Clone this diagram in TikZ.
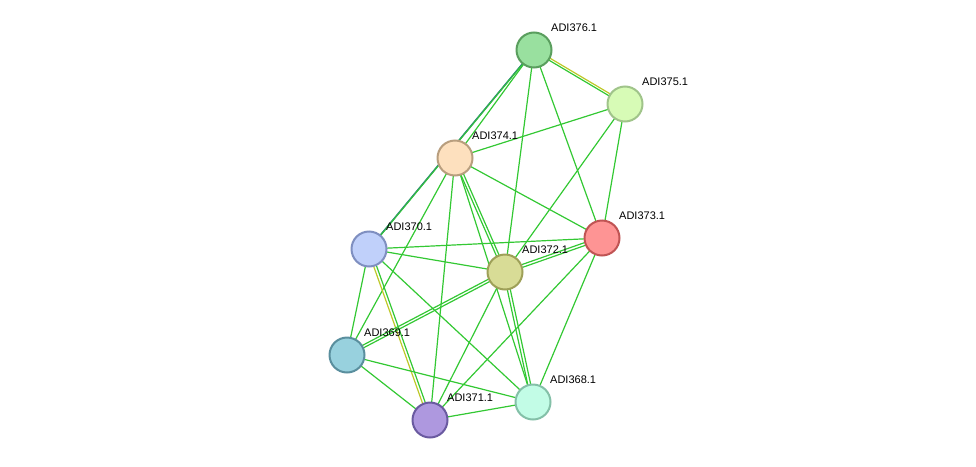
\documentclass[tikz,border=0pt]{standalone}
\usepackage{fontspec}
\setmainfont{Liberation Sans}
\begin{document}
\begin{tikzpicture}[x=1pt,y=-1pt,
  n/.style={circle,draw,line width=2pt,minimum size=35pt,inner sep=0pt},
  lab/.style={anchor=west,font=\fontsize{11}{12}\selectfont,inner sep=0pt},
  e/.style={draw={rgb,255:red,51;green,200;blue,51},line width=1.2pt},
  ye/.style={draw={rgb,255:red,190;green,200;blue,40},line width=1.2pt},
  bl/.style={draw={rgb,255:red,50;green,50;blue,230},line width=1.2pt}]
\useasboundingbox (0,0) rectangle (976,466);
\definecolor{f376}{HTML}{99E09F}\definecolor{s376}{HTML}{5A9E5E}
\definecolor{f375}{HTML}{D7FBB6}\definecolor{s375}{HTML}{A0C48A}
\definecolor{f374}{HTML}{FDE0BE}\definecolor{s374}{HTML}{B89E7E}
\definecolor{f373}{HTML}{FE9494}\definecolor{s373}{HTML}{C05454}
\definecolor{f370}{HTML}{C0D0FA}\definecolor{s370}{HTML}{7F8FC0}
\definecolor{f372}{HTML}{D8DC96}\definecolor{s372}{HTML}{9EA058}
\definecolor{f369}{HTML}{98D1DE}\definecolor{s369}{HTML}{5A8F9E}
\definecolor{f368}{HTML}{C2FCE6}\definecolor{s368}{HTML}{84C0A8}
\definecolor{f371}{HTML}{AE98DF}\definecolor{s371}{HTML}{6A5AA0}
\coordinate (p376) at (534,50);
\coordinate (p375) at (625,104);
\coordinate (p374) at (455,158);
\coordinate (p373) at (602,238);
\coordinate (p370) at (369,249);
\coordinate (p372) at (505,272);
\coordinate (p369) at (347,355);
\coordinate (p368) at (533,402);
\coordinate (p371) at (430,420);
% edges
\path[e] (p376)--(p374);
\path[e] ([xshift=-2pt,yshift=-2pt]p376)--([xshift=-2pt,yshift=-2pt]p370);
\path[bl] (p376)--(p370);
\path[e] ([xshift=2pt,yshift=2pt]p376)--([xshift=2pt,yshift=2pt]p370);
\path[e] ([yshift=-1.3pt]p376)--([yshift=-1.3pt]p375);
\path[ye] ([yshift=1.3pt]p376)--([yshift=1.3pt]p375);
\path[e] (p376)--(p372);
\path[e] (p376)--(p373);
\path[e] (p375)--(p374);
\path[e] (p375)--(p372);
\path[e] (p375)--(p373);
\path[e] (p374)--(p373);
\path[e] ([xshift=-1.5pt]p374)--([xshift=-1.5pt]p372);
\path[e] ([xshift=1.5pt]p374)--([xshift=1.5pt]p372);
\path[e] (p374)--(p368);
\path[e] (p374)--(p371);
\path[e] (p374)--(p369);
\path[e] (p370)--(p373);
\path[e] (p370)--(p372);
\path[e] (p370)--(p369);
\path[e] ([xshift=1.5pt]p370)--([xshift=1.5pt]p371);
\path[ye] ([xshift=-1.5pt]p370)--([xshift=-1.5pt]p371);
\path[e] (p370)--(p368);
\path[e] ([yshift=-1.5pt]p372)--([yshift=-1.5pt]p373);
\path[e] ([yshift=1.5pt]p372)--([yshift=1.5pt]p373);
\path[e] ([yshift=-1.5pt]p372)--([yshift=-1.5pt]p369);
\path[e] ([yshift=1.5pt]p372)--([yshift=1.5pt]p369);
\path[e] (p372)--(p371);
\path[e] ([xshift=-1.5pt]p372)--([xshift=-1.5pt]p368);
\path[e] ([xshift=1.5pt]p372)--([xshift=1.5pt]p368);
\path[e] (p373)--(p371);
\path[e] (p373)--(p368);
\path[e] (p369)--(p371);
\path[e] (p369)--(p368);
\path[e] (p371)--(p368);
% nodes
\foreach \i in {376,375,374,373,370,372,369,368,371}{
  \node[n,fill=f\i,draw=s\i] (n\i) at (p\i) {};
  \node[lab] (l\i) at ([xshift=17pt,yshift=22pt]p\i) {ADI\i.1};
}
\end{tikzpicture}
\end{document}
